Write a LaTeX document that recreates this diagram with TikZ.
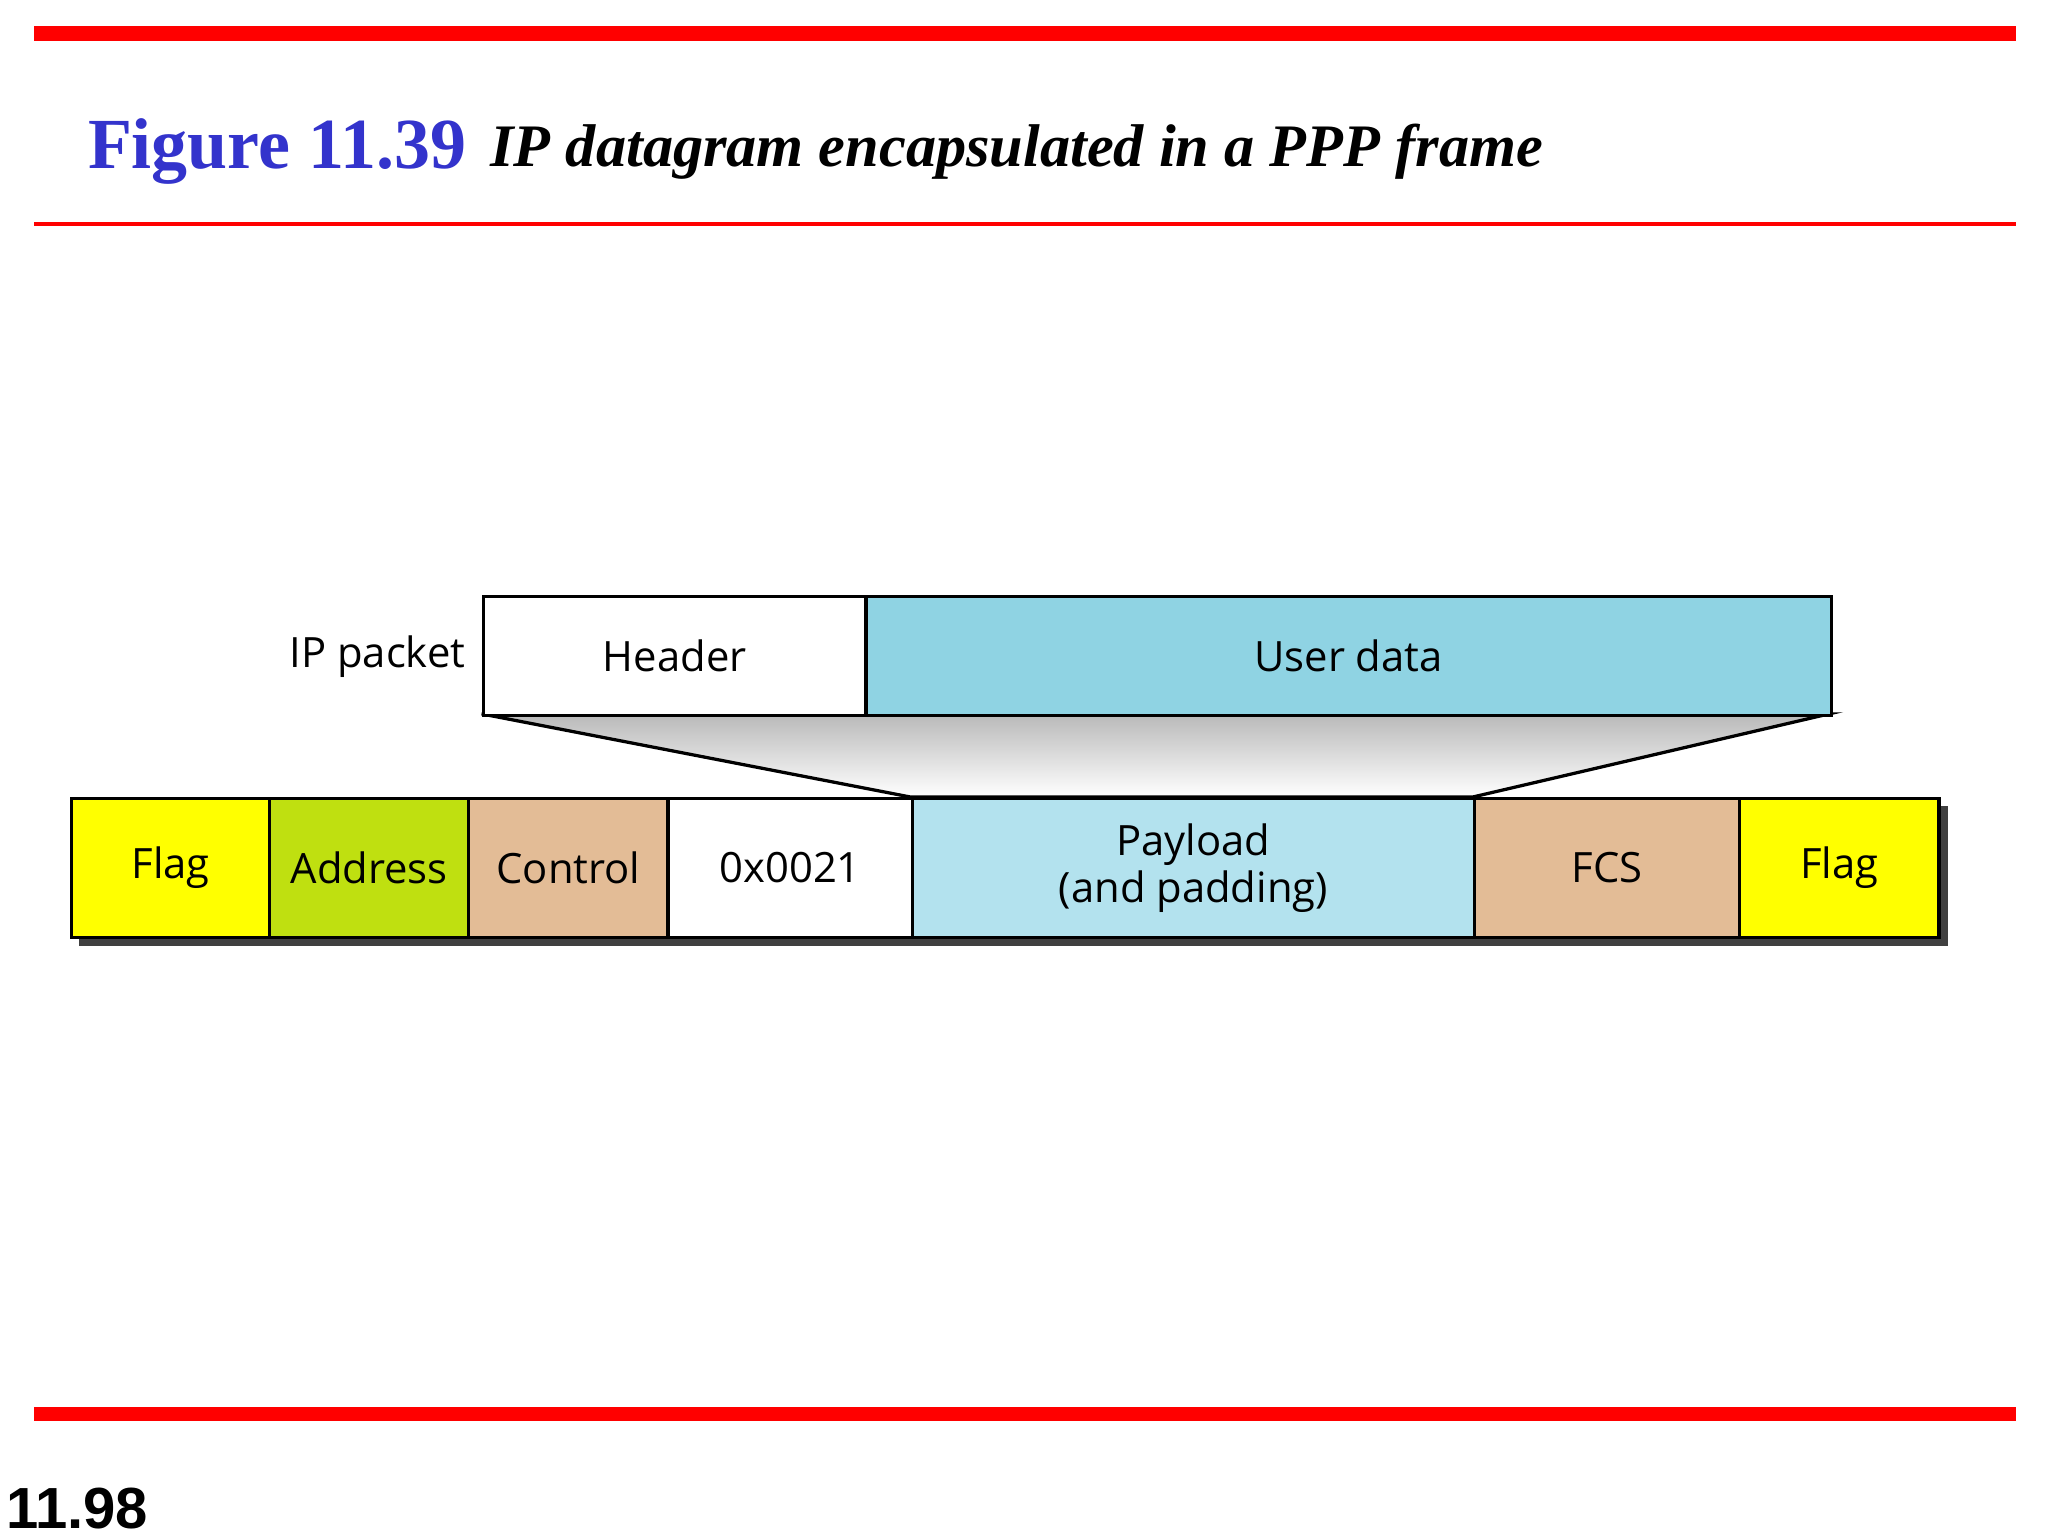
\documentclass[tikz,border=0pt]{standalone}
\usepackage{fontspec}
\setmainfont{Liberation Serif}
\newfontfamily\diag{Open Sans}
\newfontfamily\arial{Liberation Sans}
\definecolor{titleblue}{RGB}{51,51,204}
\definecolor{userblue}{RGB}{143,211,227}
\definecolor{payblue}{RGB}{179,226,238}
\definecolor{addrgreen}{RGB}{191,224,16}
\definecolor{tan}{RGB}{227,188,150}
\definecolor{flagy}{RGB}{255,255,0}
\begin{document}
\begin{tikzpicture}[x=0.01cm,y=-0.01cm,
  fld/.style={draw=black,line width=0.7pt,minimum height=1.05cm,inner sep=0,anchor=north west,font=\diag\fontsize{9}{10}\selectfont,align=center},
  pk/.style={draw=black,line width=0.7pt,minimum height=0.9cm,inner sep=0,anchor=north west,font=\diag\fontsize{9}{10}\selectfont}]
\useasboundingbox (0,0) rectangle (1552,1164);
\fill[red] (26,20) rectangle (1528,31);
\fill[red] (26,168) rectangle (1528,171);
\fill[red] (26,1066) rectangle (1528,1077);
\node[anchor=base west,inner sep=0,text=titleblue,font=\bfseries\fontsize{15.5}{16}\selectfont] (fig) at (66,128) {Figure 11.39};
\node[anchor=base west,inner sep=0,font=\bfseries\itshape\fontsize{13}{14}\selectfont] (ttl) at (371,126) {IP datagram encapsulated in a PPP frame};
\node[anchor=base west,inner sep=0,font=\arial\bfseries\fontsize{12.5}{13}\selectfont] (pg) at (4,1158) {11.98};
% trapezoid
\shade[top color=gray!55,bottom color=white,draw=black,line width=0.7pt] (365,541) -- (1386,541) -- (1116,604) -- (690,604) -- cycle;
% shadow
\fill[black!75] (60,611) rectangle (1476,717);
\node[fld,fill=flagy,minimum width=1.50cm] (f1) at (53,604) {Flag};
\node[fld,fill=addrgreen,minimum width=1.51cm] (ad) at (203,604) {Address};
\node[fld,fill=tan,minimum width=1.51cm] (ct) at (354,604) {Control};
\node[fld,fill=white,minimum width=1.85cm] (pr) at (505,604) {\raisebox{-0.6ex}{0x0021}};
\node[fld,fill=payblue,minimum width=4.26cm] (pl) at (690,604) {Payload\\(and padding)};
\node[fld,fill=tan,minimum width=2.01cm] (fcs) at (1116,604) {FCS};
\node[fld,fill=flagy,minimum width=1.51cm] (f2) at (1317,604) {Flag};
\node[pk,fill=white,minimum width=2.90cm] (hd) at (365,451) {Header};
\node[pk,fill=userblue,minimum width=7.31cm] (ud) at (655,451) {User data};
\node[anchor=east,font=\diag\fontsize{9}{10}\selectfont] (ipl) at (hd.west) {IP packet};
\end{tikzpicture}
\end{document}
